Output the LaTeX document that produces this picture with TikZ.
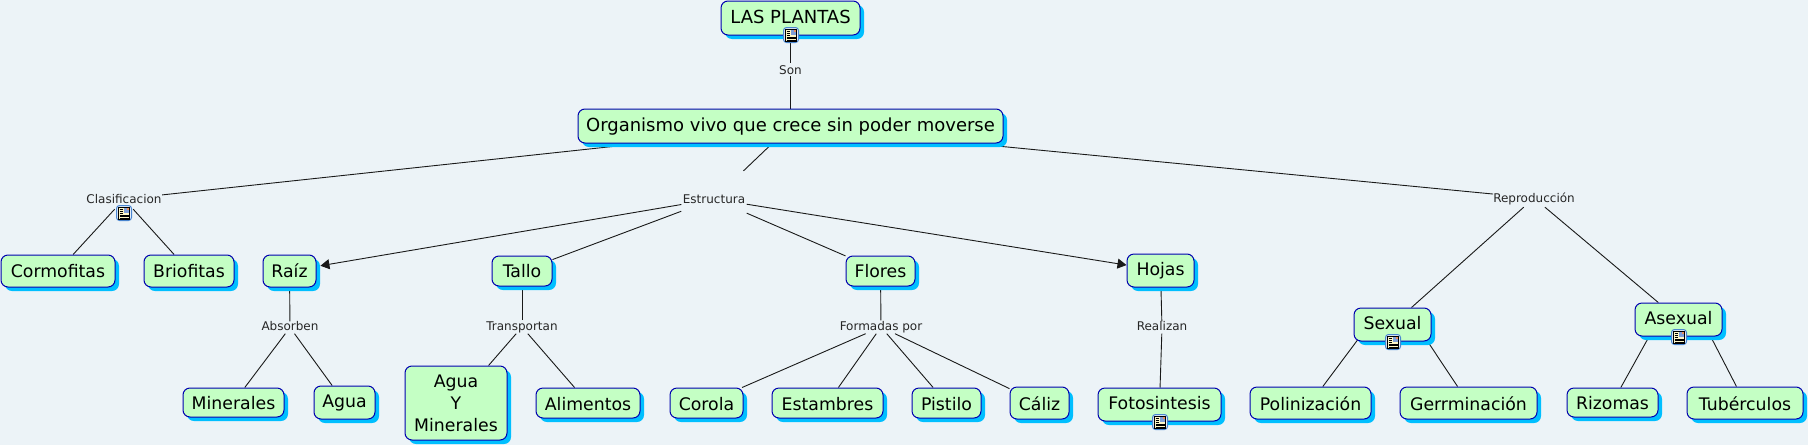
\documentclass[tikz,border=0pt]{standalone}
\usepackage{fontspec}
\setmainfont{DejaVu Sans}
\usetikzlibrary{arrows.meta,backgrounds,shadows}

\definecolor{mapback}{HTML}{ECF3F7}
\definecolor{conceptfill}{HTML}{C4FFC4}
\definecolor{conceptline}{HTML}{0000B0}
\definecolor{conceptshadow}{HTML}{00BFFF}
\definecolor{iconline}{HTML}{4A86D0}
\definecolor{iconframe}{HTML}{E4EEFA}
\definecolor{iconpaper}{HTML}{FFF8C8}
\definecolor{iconphoto}{HTML}{7F9FD8}
\definecolor{iconsun}{HTML}{E89060}

\tikzset{
    concept/.style={draw=conceptline,fill=conceptfill,rounded corners=7pt,line width=1pt,
        inner sep=0pt,align=center,font=\fontsize{17.3}{22}\selectfont,
        text height=14pt,text depth=1pt,text=black,
        general shadow={shadow xshift=4pt,shadow yshift=-4pt,fill=conceptshadow}},
    raised/.style={text height=13.5pt,text depth=3pt},
    lowered/.style={text height=15pt,text depth=0pt},
    phrase/.style={inner sep=0pt,font=\fontsize{12}{14}\selectfont,text=black!85,
        text height=9pt,text depth=0pt},
    lowphrase/.style={phrase,text depth=2.5pt},
    link/.style={draw=black!90,line width=0.9pt},
    docicon/.pic={
        \draw[iconline,fill=iconframe,rounded corners=3pt,line width=1pt] (-7.5,-7.5) rectangle (7.5,7.5);
        \draw[black,fill=iconpaper,line width=0.6pt] (-5.5,-6.5) rectangle (5.5,6);
        \fill[iconphoto] (0,0) rectangle (5,5.5);
        \fill[iconsun] (2.5,3) rectangle (5,5.5);
        \foreach \y in {4,2,0}{
            \draw[black,line width=0.6pt] (-4.5,\y) -- (-1.5,\y);
        }
        \foreach \y in {-2,-3.5,-5}{
            \draw[black,line width=0.6pt] (-4.5,\y) -- (4.5,\y);
        }
    }
}

\begin{document}
\begin{tikzpicture}[x=1pt,y=-1pt,every pic/.style={y=1pt,x=1pt}]
    \useasboundingbox (0,0) rectangle (1808,445);

    % conceptos
    \node[concept,raised,font=\fontsize{18}{22}\selectfont,minimum width=139pt,minimum height=34pt] (plantas) at (790.5,18) {LAS PLANTAS};
    \node[concept,raised,font=\fontsize{18}{22}\selectfont,minimum width=425pt,minimum height=34pt] (organismo) at (790.5,126) {Organismo vivo que crece sin poder moverse};

    \node[concept,minimum width=114pt,minimum height=32pt] (cormofitas) at (58,271) {Cormofitas};
    \node[concept,minimum width=90pt,minimum height=32pt] (briofitas) at (189,271) {Briofitas};
    \node[concept,minimum width=53pt,minimum height=32pt] (raiz) at (289.5,271) {Raíz};
    \node[concept,minimum width=60pt,minimum height=30pt] (tallo) at (522,271) {Tallo};
    \node[concept,minimum width=69pt,minimum height=30pt] (flores) at (880.5,271) {Flores};
    \node[concept,raised,minimum width=67pt,minimum height=33pt] (hojas) at (1160.5,270.5) {Hojas};
    \node[concept,raised,minimum width=77pt,minimum height=33pt] (sexual) at (1392.5,324.5) {Sexual};
    \node[concept,raised,minimum width=87pt,minimum height=33pt] (asexual) at (1678.5,319.5) {Asexual};

    \node[concept,minimum width=101pt,minimum height=29pt] (minerales) at (233.5,402.5) {Minerales};
    \node[concept,raised,minimum width=61pt,minimum height=33pt] (agua) at (344.5,402.5) {Agua};
    \node[concept,text height=,text depth=,minimum width=102pt,minimum height=74pt] (aguaminerales) at (456,403) {Agua\\Y\\Minerales};
    \node[concept,lowered,minimum width=104pt,minimum height=30pt] (alimentos) at (588,403) {Alimentos};
    \node[concept,lowered,minimum width=73pt,minimum height=30pt] (corola) at (706.5,403) {Corola};
    \node[concept,lowered,minimum width=111pt,minimum height=30pt] (estambres) at (827.5,403) {Estambres};
    \node[concept,lowered,minimum width=69pt,minimum height=30pt] (pistilo) at (946.5,403) {Pistilo};
    \node[concept,lowered,minimum width=59pt,minimum height=32pt] (caliz) at (1039.5,403) {Cáliz};
    \node[concept,raised,minimum width=123pt,minimum height=33pt] (fotosintesis) at (1159.5,404.5) {Fotosintesis};
    \node[concept,lowered,minimum width=121pt,minimum height=32pt] (polinizacion) at (1310.5,403) {Polinización};
    \node[concept,lowered,minimum width=137pt,minimum height=32pt] (germinacion) at (1468.5,403) {Gerrminación};
    \node[concept,minimum width=91pt,minimum height=29pt] (rizomas) at (1612.5,402.5) {Rizomas};
    \node[concept,lowered,minimum width=116pt,minimum height=32pt] (tuberculos) at (1745,403) {Tubérculos};

    % frases de enlace
    \node[phrase,minimum width=30pt,minimum height=13pt] (son) at (790.5,69.5) {Son};
    \node[phrase,minimum width=76pt,minimum height=20pt] (clasificacion) at (124,199) {Clasificacion};
    \node[phrase,minimum width=65pt,minimum height=56pt] (estructura) at (714,199) {Estructura};
    \node[phrase,minimum width=80pt,minimum height=18pt] (reproduccion) at (1534,198) {Reproducción};
    \node[lowphrase,minimum width=58pt,minimum height=12pt] (absorben) at (290,327.5) {Absorben};
    \node[lowphrase,minimum width=74pt,minimum height=13pt] (transportan) at (522,327) {Transportan};
    \node[lowphrase,minimum width=84pt,minimum height=13pt] (formadas) at (881,327) {Formadas por};
    \node[lowphrase,minimum width=52pt,minimum height=12pt] (realizan) at (1162,327.5) {Realizan};

    % puntos ocultos detras de los conceptos
    \coordinate (organismoleft) at (719.5,135);
    \coordinate (sexualleft) at (1365,330);
    \coordinate (sexualright) at (1420,330);
    \coordinate (asexualleft) at (1655.5,325);
    \coordinate (asexualright) at (1704.7,325);

    \begin{scope}[on background layer]
        \fill[mapback] (0,0) rectangle (1808,445);

        \draw[link] (plantas) -- (son);
        \draw[link] (son) -- (organismo);
        \draw[link] (organismoleft) -- (clasificacion);
        \draw[link] (organismo) -- (estructura);
        \draw[link] (organismo) -- (reproduccion);

        \foreach \a/\b in {clasificacion/cormofitas,clasificacion/briofitas,
            estructura/tallo,estructura/flores,
            raiz/absorben,absorben/minerales,absorben/agua,
            tallo/transportan,transportan/aguaminerales,transportan/alimentos,
            flores/formadas,formadas/corola,formadas/estambres,formadas/pistilo,formadas/caliz,
            hojas/realizan,realizan/fotosintesis,
            reproduccion/sexual,reproduccion/asexual,
            sexualleft/polinizacion,sexualright/germinacion,
            asexualleft/rizomas,asexualright/tuberculos}{
            \draw[link] (\a) -- (\b);
        }

        \draw[link,-{Triangle[length=9pt,width=10pt]},shorten >=4pt] (estructura) -- (raiz);
        \draw[link,-{Triangle[length=9pt,width=10pt]}] (estructura) -- (hojas);
    \end{scope}

    % iconos
    \pic at (791,35) {docicon};
    \pic at (124,213) {docicon};
    \pic at (1393,342) {docicon};
    \pic at (1679,337) {docicon};
    \pic at (1160,422) {docicon};
\end{tikzpicture}
\end{document}
